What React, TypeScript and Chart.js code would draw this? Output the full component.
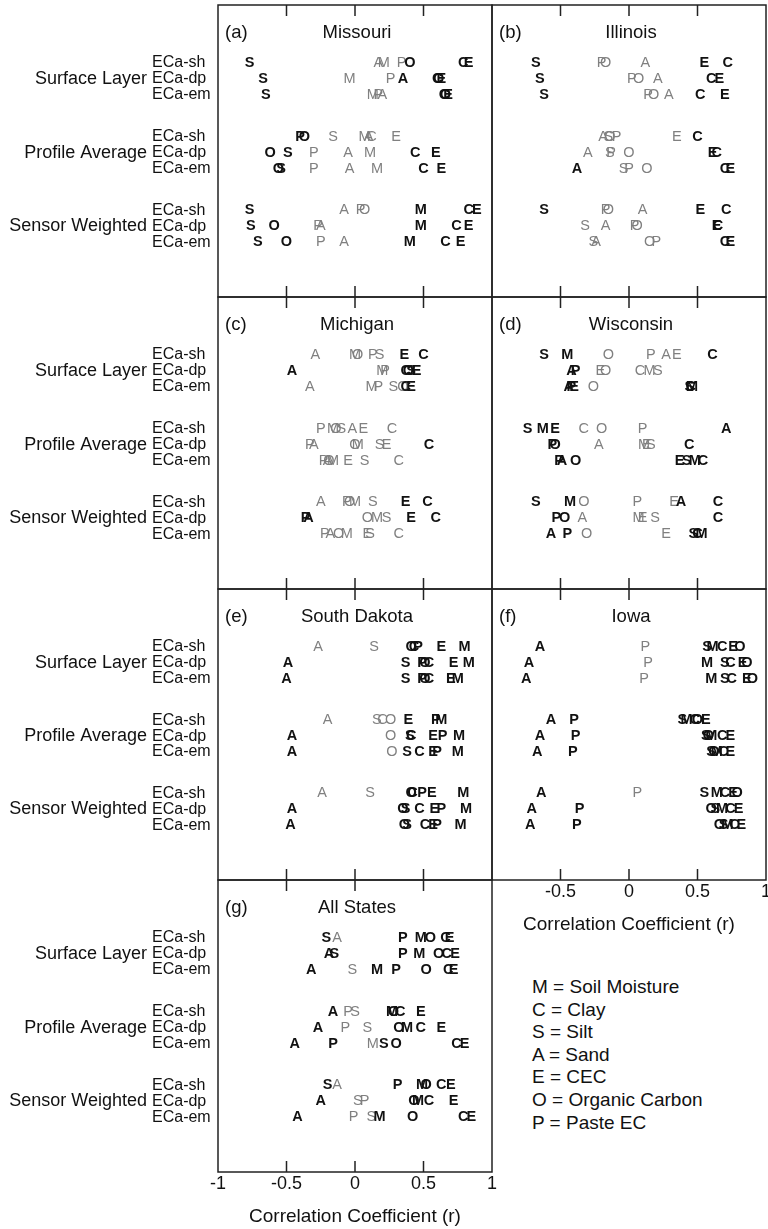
import React, { useEffect, useRef } from "react";
import { Chart, registerables } from "chart.js";
Chart.register(...registerables);

// ---------- data ----------
const properties = ["M", "C", "S", "A", "E", "O", "P"];
const propertyNames = ["Soil Moisture", "Clay", "Silt", "Sand", "CEC", "Organic Carbon", "Paste EC"];
const groupLabels = ["Surface Layer", "Profile Average", "Sensor Weighted"];
const sensorLabels = ["ECa-sh", "ECa-dp", "ECa-em"];
const rowPositions = [0, 1, 2, 4.6, 5.6, 6.6, 9.2, 10.2, 11.2];
const xTicks = [-1, -0.5, 0, 0.5, 1];
const axisTitle = "Correlation Coefficient (r)";

type Vals = (number | null)[];

const missouriR: Record<string, Vals> = {
  M: [0.21, -0.04, 0.13, 0.07, 0.11, 0.16, 0.48, 0.48, 0.40],
  C: [0.79, 0.60, 0.65, 0.12, 0.44, 0.50, 0.83, 0.74, 0.66],
  S: [-0.77, -0.67, -0.65, -0.16, -0.49, -0.54, -0.77, -0.76, -0.71],
  A: [0.17, 0.35, 0.20, 0.10, -0.05, -0.04, -0.08, -0.25, -0.08],
  E: [0.83, 0.63, 0.68, 0.30, 0.59, 0.63, 0.89, 0.83, 0.77],
  O: [0.40, 0.61, 0.66, -0.37, -0.62, -0.56, 0.07, -0.59, -0.50],
  P: [0.34, 0.26, 0.17, -0.40, -0.30, -0.30, 0.04, -0.27, -0.25],
};
const missouriSig: Record<string, string> = {
  M: "000000111", C: "111011111", S: "111011111", A: "010000000",
  E: "111011111", O: "111111011", P: "000100000",
};

const illinoisR: Record<string, Vals> = {
  M: [null, null, null, null, null, null, null, null, null],
  C: [0.72, 0.60, 0.52, 0.50, 0.64, 0.70, 0.71, 0.65, 0.70],
  S: [-0.68, -0.65, -0.62, -0.15, -0.14, -0.04, -0.62, -0.32, -0.26],
  A: [0.12, 0.21, 0.29, -0.19, -0.30, -0.38, 0.10, -0.17, -0.24],
  E: [0.55, 0.66, 0.70, 0.35, 0.61, 0.74, 0.52, 0.64, 0.74],
  O: [-0.17, 0.07, 0.18, -0.14, 0.00, 0.13, -0.15, 0.06, 0.15],
  P: [-0.20, 0.02, 0.14, -0.09, -0.13, 0.00, -0.17, 0.04, 0.20],
};
const illinoisSig: Record<string, string> = {
  M: "000000000", C: "111111111", S: "111000100", A: "000001000",
  E: "111011111", O: "000000000", P: "000000000",
};

const michiganR: Record<string, Vals> = {
  M: [0.00, 0.20, 0.12, -0.16, 0.02, -0.16, 0.00, 0.16, -0.06],
  C: [0.50, 0.37, 0.37, 0.27, 0.54, 0.32, 0.53, 0.59, 0.32],
  S: [0.18, 0.41, 0.28, -0.10, 0.18, 0.07, 0.13, 0.23, 0.11],
  A: [-0.29, -0.46, -0.33, -0.02, -0.30, -0.20, -0.25, -0.34, -0.18],
  E: [0.36, 0.45, 0.41, 0.06, 0.23, -0.05, 0.37, 0.41, 0.09],
  O: [0.02, 0.39, 0.35, -0.14, 0.00, -0.19, -0.04, 0.09, -0.12],
  P: [0.13, 0.22, 0.17, -0.25, -0.33, -0.23, -0.06, -0.36, -0.22],
};
const michiganSig: Record<string, string> = {
  M: "000000000", C: "111010110", S: "010000000", A: "010000010",
  E: "111000110", O: "010000000", P: "000000010",
};

const wisconsinR: Record<string, Vals> = {
  M: [-0.45, 0.15, 0.46, -0.63, 0.11, 0.48, -0.43, 0.07, 0.53],
  C: [0.61, 0.08, 0.45, -0.33, 0.44, 0.54, 0.65, 0.65, 0.50],
  S: [-0.62, 0.21, 0.44, -0.74, 0.16, 0.42, -0.68, 0.19, 0.47],
  A: [0.27, -0.42, -0.44, 0.71, -0.22, -0.49, 0.38, -0.34, -0.57],
  E: [0.35, -0.21, -0.40, -0.54, 0.13, 0.37, 0.33, 0.10, 0.27],
  O: [-0.15, -0.17, -0.26, -0.20, -0.54, -0.39, -0.33, -0.47, -0.31],
  P: [0.16, -0.39, -0.42, 0.10, -0.56, -0.51, 0.06, -0.53, -0.45],
};
const wisconsinSig: Record<string, string> = {
  M: "101101101", C: "101011111", S: "101101101", A: "011101101",
  E: "001101000", O: "000011010", P: "011011011",
};

const southDakotaR: Record<string, Vals> = {
  M: [0.80, 0.83, 0.75, 0.63, 0.76, 0.75, 0.79, 0.81, 0.77],
  C: [0.43, 0.54, 0.54, 0.20, 0.41, 0.47, 0.42, 0.47, 0.51],
  S: [0.14, 0.37, 0.37, 0.16, 0.40, 0.38, 0.11, 0.37, 0.38],
  A: [-0.27, -0.49, -0.50, -0.20, -0.46, -0.46, -0.24, -0.46, -0.47],
  E: [0.63, 0.72, 0.70, 0.39, 0.57, 0.57, 0.56, 0.58, 0.57],
  O: [0.41, 0.51, 0.51, 0.26, 0.26, 0.27, 0.41, 0.35, 0.36],
  P: [0.46, 0.49, 0.49, 0.59, 0.64, 0.60, 0.49, 0.63, 0.60],
};
const southDakotaSig: Record<string, string> = {
  M: "111111111", C: "111011111", S: "011011011", A: "011011011",
  E: "111111111", O: "111000111", P: "111111111",
};

const iowaR: Record<string, Vals> = {
  M: [0.61, 0.57, 0.60, 0.42, 0.60, 0.64, 0.64, 0.68, 0.72],
  C: [0.68, 0.74, 0.75, 0.48, 0.68, 0.69, 0.70, 0.74, 0.77],
  S: [0.57, 0.70, 0.70, 0.39, 0.56, 0.60, 0.55, 0.63, 0.69],
  A: [-0.65, -0.73, -0.75, -0.57, -0.65, -0.67, -0.64, -0.71, -0.72],
  E: [0.76, 0.83, 0.86, 0.56, 0.74, 0.74, 0.76, 0.80, 0.82],
  O: [0.81, 0.86, 0.90, 0.50, 0.58, 0.62, 0.79, 0.60, 0.66],
  P: [0.12, 0.14, 0.11, -0.40, -0.39, -0.41, 0.06, -0.36, -0.38],
};
const iowaSig: Record<string, string> = {
  M: "111111111", C: "111111111", S: "111111111", A: "111111111",
  E: "111111111", O: "111111111", P: "000111011",
};

const allStatesR: Record<string, Vals> = {
  M: [0.48, 0.47, 0.16, 0.27, 0.38, 0.13, 0.49, 0.46, 0.18],
  C: [0.66, 0.67, 0.68, 0.33, 0.48, 0.74, 0.63, 0.54, 0.79],
  S: [-0.21, -0.15, -0.02, 0.00, 0.09, 0.21, -0.20, 0.02, 0.12],
  A: [-0.13, -0.19, -0.32, -0.16, -0.27, -0.44, -0.13, -0.25, -0.42],
  E: [0.69, 0.73, 0.72, 0.48, 0.63, 0.80, 0.70, 0.72, 0.85],
  O: [0.55, 0.61, 0.52, 0.28, 0.32, 0.30, 0.52, 0.43, 0.42],
  P: [0.35, 0.35, 0.30, -0.05, -0.07, -0.16, 0.31, 0.07, -0.01],
};
const allStatesSig: Record<string, string> = {
  M: "111110111", C: "111111111", S: "110001100", A: "011111011",
  E: "111111111", O: "111111111", P: "111001100",
};

// ---------- layout / style ----------
const FONT = '"Liberation Sans", Arial, Helvetica, sans-serif';
const Y_MIN = -3.625;
const Y_MAX = 14.625;
const INK = "#111";
const GRAY = "#808080";

type PanelSpec = {
  tag: string;
  title: string;
  r: Record<string, Vals>;
  sig: Record<string, string>;
  col: 0 | 1;
  top: number;
  bottom: number;
  axisBottom?: number;
  hideFirstTick?: boolean;
};

const panels: PanelSpec[] = [
  { tag: "(a)", title: "Missouri", r: missouriR, sig: missouriSig, col: 0, top: 5, bottom: 297 },
  { tag: "(b)", title: "Illinois", r: illinoisR, sig: illinoisSig, col: 1, top: 5, bottom: 297 },
  { tag: "(c)", title: "Michigan", r: michiganR, sig: michiganSig, col: 0, top: 297, bottom: 589 },
  { tag: "(d)", title: "Wisconsin", r: wisconsinR, sig: wisconsinSig, col: 1, top: 297, bottom: 589 },
  { tag: "(e)", title: "South Dakota", r: southDakotaR, sig: southDakotaSig, col: 0, top: 589, bottom: 880 },
  { tag: "(f)", title: "Iowa", r: iowaR, sig: iowaSig, col: 1, top: 589, bottom: 880, axisBottom: 937, hideFirstTick: true },
  { tag: "(g)", title: "All States", r: allStatesR, sig: allStatesSig, col: 0, top: 880, bottom: 1172, axisBottom: 1229 },
];

const lettersPlugin = {
  id: "letters",
  afterDatasetsDraw(chart: any) {
    const ctx = chart.ctx;
    ctx.save();
    ctx.textAlign = "center";
    ctx.textBaseline = "middle";
    for (const pass of [0, 1]) {
      chart.data.datasets.forEach((ds: any, di: number) => {
        const meta = chart.getDatasetMeta(di);
        meta.data.forEach((el: any, i: number) => {
          const p = ds.data[i];
          if (p.s !== pass) return;
          ctx.font = pass ? `bold 14.5px ${FONT}` : `14.5px ${FONT}`;
          ctx.fillStyle = pass ? INK : GRAY;
          ctx.fillText(ds.label, el.x, el.y);
        });
      });
    }
    ctx.restore();
  },
};

const framePlugin = {
  id: "frame",
  afterDraw(chart: any, _args: any, opts: any) {
    const { ctx, chartArea } = chart;
    const { left, right, top, bottom } = chartArea;
    const xs = chart.scales.x;
    const ys = chart.scales.y;
    ctx.save();
    ctx.strokeStyle = "#222";
    ctx.lineWidth = 1.5;
    ctx.strokeRect(left, top, right - left, bottom - top);
    [-0.5, 0, 0.5].forEach((v) => {
      const px = xs.getPixelForValue(v);
      ctx.beginPath();
      ctx.moveTo(px, top);
      ctx.lineTo(px, top + 11);
      ctx.moveTo(px, bottom);
      ctx.lineTo(px, bottom - 11);
      ctx.stroke();
    });
    ctx.fillStyle = INK;
    ctx.textBaseline = "middle";
    ctx.font = `18.5px ${FONT}`;
    ctx.textAlign = "left";
    ctx.fillText(opts.tag, left + 7, top + 28);
    ctx.textAlign = "center";
    ctx.fillText(opts.title, (left + right) / 2 + 2, top + 28);
    if (opts.groups) {
      ctx.font = `18px ${FONT}`;
      ctx.textAlign = "right";
      groupLabels.forEach((g, gi) => {
        const py = ys.getPixelForValue(rowPositions[gi * 3 + 1]);
        ctx.fillText(g, left - 71, py);
      });
    }
    ctx.restore();
  },
};

function Panel({ spec }: { spec: PanelSpec }) {
  const ref = useRef<HTMLCanvasElement>(null);
  const isLeft = spec.col === 0;
  const canvasLeft = isLeft ? 0 : 484;
  const canvasWidth = isLeft ? 500 : 284;
  const canvasTop = spec.top - 4;
  const canvasBottom = spec.axisBottom ?? spec.bottom + 4;
  const canvasHeight = canvasBottom - canvasTop;
  const axisHeight = spec.axisBottom ? spec.axisBottom - spec.bottom : 0;

  useEffect(() => {
    const canvas = ref.current!;
    const datasets = properties.map((letter) => ({
      label: letter,
      data: spec.r[letter]
        .map((v, i) => ({ x: v, y: rowPositions[i], s: spec.sig[letter][i] === "1" ? 1 : 0 }))
        .filter((p) => p.x !== null),
      pointRadius: 0,
      pointHoverRadius: 0,
      showLine: false,
    }));
    const chart = new Chart(canvas, {
      type: "scatter",
      data: { datasets } as any,
      plugins: [lettersPlugin, framePlugin],
      options: {
        responsive: false,
        animation: false,
        events: [],
        layout: {
          padding: {
            left: isLeft ? 152 : 8,
            right: isLeft ? 8 : 2,
            top: 4,
            bottom: spec.axisBottom ? 0 : 4,
          },
        },
        plugins: {
          legend: { display: false },
          tooltip: { enabled: false },
          frame: { tag: spec.tag, title: spec.title, groups: isLeft },
        } as any,
        scales: {
          x: {
            type: "linear",
            min: -1,
            max: 1,
            display: !!spec.axisBottom,
            grid: { display: false, drawTicks: false },
            border: { display: false },
            afterBuildTicks: (axis: any) => {
              axis.ticks = xTicks.map((v) => ({ value: v }));
            },
            afterFit: (axis: any) => {
              axis.paddingLeft = 0;
              axis.paddingRight = 0;
              axis.paddingTop = 0;
              axis.paddingBottom = 0;
              if (spec.axisBottom) axis.height = axisHeight;
            },
            ticks: {
              autoSkip: false,
              maxRotation: 0,
              padding: 1,
              color: INK,
              font: { family: FONT, size: 18 },
              callback: (v: any) => (spec.hideFirstTick && v === -1 ? "" : String(v)),
            },
            title: {
              display: true,
              text: axisTitle,
              color: INK,
              font: { family: FONT, size: 19 },
              padding: { top: 0, bottom: 1 },
            },
          },
          y: {
            type: "linear",
            min: Y_MIN,
            max: Y_MAX,
            reverse: true,
            display: isLeft,
            grid: { display: false, drawTicks: false },
            border: { display: false },
            afterBuildTicks: (axis: any) => {
              axis.ticks = rowPositions.map((v) => ({ value: v }));
            },
            afterFit: (axis: any) => {
              axis.paddingLeft = 0;
              axis.paddingRight = 0;
              axis.paddingTop = 0;
              axis.paddingBottom = 0;
              if (isLeft) axis.width = 66;
            },
            ticks: {
              autoSkip: false,
              crossAlign: "far",
              padding: 0,
              color: INK,
              font: { family: FONT, size: 16 },
              callback: (_v: any, i: number) => sensorLabels[i % 3],
            },
          },
        } as any,
      },
    });
    return () => chart.destroy();
  }, []);

  return (
    <canvas
      ref={ref}
      width={canvasWidth}
      height={canvasHeight}
      style={{
        position: "absolute",
        left: canvasLeft,
        top: canvasTop,
        width: canvasWidth,
        height: canvasHeight,
      }}
    />
  );
}

export default function App() {
  return (
    <div
      style={{
        position: "absolute",
        left: 0,
        top: 0,
        width: 768,
        height: 1229,
        background: "#fff",
        overflow: "hidden",
      }}
    >
      {panels.map((p) => (
        <Panel key={p.tag} spec={p} />
      ))}
      <div
        style={{
          position: "absolute",
          left: 532,
          top: 976,
          fontFamily: FONT,
          fontSize: 19,
          lineHeight: "22.6px",
          color: INK,
          whiteSpace: "pre",
        }}
      >
        {properties.map((k, i) => (
          <div key={k}>{`${k} = ${propertyNames[i]}`}</div>
        ))}
      </div>
    </div>
  );
}
